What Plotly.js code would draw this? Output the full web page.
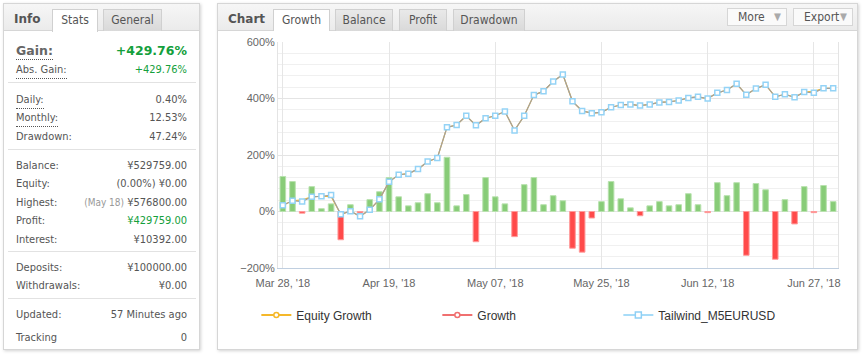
<!DOCTYPE html>
<html>
<head>
<meta charset="utf-8">
<script src="https://cdn.plot.ly/plotly-3.0.1.min.js"></script>
<style>
  html, body { margin:0; padding:0; background:#fff; }
  body { width:862px; height:355px; overflow:hidden; position:relative;
         font-family: "DejaVu Sans Condensed", "Liberation Sans", Arial, sans-serif; font-size:11px; color:#555; }
  .panel { position:absolute; box-sizing:border-box; border:1px solid #d6d6d6; background:#fff;
           box-shadow: 1px 1px 3px rgba(0,0,0,0.18); }
  .hdr { position:absolute; left:0; top:0; right:0; height:27px; box-sizing:border-box;
         background:linear-gradient(#f6f6f6,#ebebeb); border-bottom:1px solid #d6d6d6; }
  .ttl { position:absolute; top:8px; font-weight:bold; font-size:12px; color:#555;
         font-family:"DejaVu Sans","Liberation Sans",sans-serif; }
  .tab { position:absolute; top:5px; height:22px; box-sizing:border-box; border:1px solid #d0d0d0;
         border-bottom:none; background:linear-gradient(#e9e9e9,#d9d9d9); text-align:center;
         line-height:21px; font-size:12px; color:#555; }
  .tab.on { background:#fff; height:23px; }
  .btn { position:absolute; top:4px; height:18px; box-sizing:border-box; border:1px solid #d6d6d6;
         background:#fafafa; font-size:12px; color:#555; line-height:16px; padding-left:10px; }
  .btn .ar { position:absolute; right:5px; top:0; color:#aaa; font-size:10px; }
  .row { position:absolute; left:12px; width:171px; height:14px; line-height:14px; }
  .row .l { position:absolute; left:0; top:0; }
  .row .v { position:absolute; right:0; top:0; text-align:right; white-space:nowrap; }
  .dot { border-bottom:1px dotted #555; padding-bottom:1px; }
  .sep { position:absolute; left:4px; width:188px; height:0; border-top:1px solid #e2e2e2; }
  .g { color:#14a03c; }
  .lt { color:#999; font-size:10px; }
  .big { font-family:"DejaVu Sans","Liberation Sans",sans-serif; font-weight:bold; font-size:12.5px; }
</style>
</head>
<body>

<div class="panel" style="left:3px;top:3px;width:197px;height:347px;">
  <div class="hdr">
    <div class="ttl" style="left:10px;">Info</div>
    <div class="tab on" style="left:48px;width:46px;">Stats</div>
    <div class="tab" style="left:99px;width:59px;">General</div>
  </div>
  <div class="row" style="top:40px;"><span class="l big dot" style="color:#666;">Gain:</span><span class="v big g">+429.76%</span></div>
  <div class="row" style="top:59px;"><span class="l dot">Abs. Gain:</span><span class="v g">+429.76%</span></div>
  <div class="sep" style="top:78px;"></div>
  <div class="row" style="top:89px;"><span class="l dot">Daily:</span><span class="v">0.40%</span></div>
  <div class="row" style="top:107px;"><span class="l dot">Monthly:</span><span class="v">12.53%</span></div>
  <div class="row" style="top:126px;"><span class="l">Drawdown:</span><span class="v">47.24%</span></div>
  <div class="sep" style="top:145px;"></div>
  <div class="row" style="top:155px;"><span class="l">Balance:</span><span class="v">¥529759.00</span></div>
  <div class="row" style="top:173px;"><span class="l">Equity:</span><span class="v">(0.00%) ¥0.00</span></div>
  <div class="row" style="top:192px;"><span class="l">Highest:</span><span class="v"><span class="lt">(May 18)</span> ¥576800.00</span></div>
  <div class="row" style="top:210px;"><span class="l">Profit:</span><span class="v g">¥429759.00</span></div>
  <div class="row" style="top:229px;"><span class="l">Interest:</span><span class="v">¥10392.00</span></div>
  <div class="sep" style="top:247px;"></div>
  <div class="row" style="top:257px;"><span class="l">Deposits:</span><span class="v">¥100000.00</span></div>
  <div class="row" style="top:275px;"><span class="l">Withdrawals:</span><span class="v">¥0.00</span></div>
  <div class="sep" style="top:294px;"></div>
  <div class="row" style="top:304px;"><span class="l">Updated:</span><span class="v">57 Minutes ago</span></div>
  <div class="row" style="top:327px;"><span class="l">Tracking</span><span class="v">0</span></div>
</div>

<div class="panel" style="left:217px;top:3px;width:641px;height:347px;">
  <div class="hdr">
    <div class="ttl" style="left:10px;">Chart</div>
    <div class="tab on" style="left:55px;width:57px;">Growth</div>
    <div class="tab" style="left:117px;width:58px;">Balance</div>
    <div class="tab" style="left:181px;width:48px;">Profit</div>
    <div class="tab" style="left:235px;width:72px;">Drawdown</div>
    <div class="btn" style="left:509px;width:60px;">More<span class="ar">▼</span></div>
    <div class="btn" style="left:575px;width:60px;">Export<span class="ar">▼</span></div>
  </div>
</div>

<div id="chart" style="position:absolute;left:218px;top:31px;width:639px;height:318px;"></div>

<script>
// Category tick labels (every 11th data point)
const tickIndex = [0, 11, 22, 33, 44, 55];
const tickLabels = ["Mar 28, '18", "Apr 19, '18", "May 07, '18", "May 25, '18", "Jun 12, '18", "Jun 27, '18"];

// Growth per period (%) - bars
const growth = [124,106,-6,88,10,27,-100,24,-5,42,
                70,120,52,20,31,63,31,192,20,60,
                -107,120,52,27,-89,95,120,24,56,38,
                -130,-144,-23,35,106,45,13,-15,20,35,
                20,24,63,24,-4,102,56,102,-155,99,
                77,-169,42,-44,88,-4,92,35];

// Tailwind_M5EURUSD cumulative growth (%)
const tailwind = [22,38,35,52,54,58,-10,1,-17,6,
                  43,105,130,134,150,177,189,298,306,339,
                  305,330,339,354,287,339,412,426,460,485,
                  390,356,348,351,369,377,379,375,379,386,
                  388,393,402,406,400,420,430,452,413,435,
                  449,406,415,404,423,420,436,436];

// Equity growth (%)
const equity = [22,38,41,52,54,53,-10,1,-17,6,
                43,105,130,134,150,177,189,298,306,339,
                305,330,339,354,287,339,412,426,460,485,
                390,356,348,351,369,377,379,375,379,386,
                388,393,402,406,400,420,430,452,413,435,
                449,406,415,404,423,425,436,436];

const idx = growth.map((_, i) => i);

const traces = [
  { type:'bar', x: idx, y: growth, showlegend:false, hoverinfo:'y',
    marker:{ color: growth.map(v => v >= 0 ? '#88cc78' : '#ff4a4a'),
             line:{ color: growth.map(v => v >= 0 ? '#b8e2ae' : '#ff9a9a'), width:1 } } },
  { type:'scatter', mode:'lines', x: idx, y: equity, showlegend:false,
    line:{ color:'#f5b82a', width:1.2 } },
  { type:'scatter', mode:'lines+markers', x: idx, y: tailwind, showlegend:false,
    line:{ color:'#a0a0a0', width:1.2 },
    marker:{ symbol:'square', size:5, color:'#ffffff', line:{ color:'#94d3f6', width:1.5 } } },
  // legend entries
  { type:'scatter', mode:'lines+markers', x:[null], y:[null], name:'Equity Growth',
    line:{ color:'#f5b82a', width:2 }, marker:{ symbol:'circle', size:5, color:'#fff', line:{ color:'#f5b82a', width:1.5 } } },
  { type:'scatter', mode:'lines+markers', x:[null], y:[null], name:'Growth',
    line:{ color:'#f07070', width:2 }, marker:{ symbol:'circle', size:5, color:'#fff', line:{ color:'#f07070', width:1.5 } } },
  { type:'scatter', mode:'lines+markers', x:[null], y:[null], name:'Tailwind_M5EURUSD',
    line:{ color:'#a8dcf8', width:2 }, marker:{ symbol:'square', size:6, color:'#fff', line:{ color:'#8fd0f5', width:1.5 } } }
];

const layout = {
  width:639, height:318,
  margin:{ l:60, r:19, t:11, b:81 },
  paper_bgcolor:'#fff', plot_bgcolor:'#fff',
  font:{ family:'"Liberation Sans", Arial, sans-serif', size:11, color:'#666' },
  bargap:0.42,
  xaxis:{ range:[-0.5, 57.5], tickvals: tickIndex, ticktext: tickLabels,
          showgrid:true, gridcolor:'#e6e6e6', zeroline:false,
          showline:true, linecolor:'#c0cfe0', linewidth:1, ticks:'', ticklabelstandoff:5,
          tickfont:{ size:11, color:'#666' } },
  yaxis:{ range:[-200, 600], dtick:200, ticksuffix:'%', showgrid:true, gridcolor:'#e4e4e4',
          zeroline:false, showline:true, linecolor:'#e4e4e4', mirror:true, ticks:'',
          tickfont:{ size:11, color:'#666' },
          minor:{ dtick:40, showgrid:true, gridcolor:'#f0f0f0' } },
  legend:{ orientation:'h', xref:'container', yref:'container', x:0.06, y:0.107,
           xanchor:'left', yanchor:'middle', entrywidth:136, entrywidthmode:'pixels',
           font:{ size:12, color:'#333' }, bgcolor:'rgba(0,0,0,0)' },
  showlegend:true
};

Plotly.newPlot('chart', traces, layout, { displayModeBar:false, staticPlot:true });
</script>
</body>
</html>
